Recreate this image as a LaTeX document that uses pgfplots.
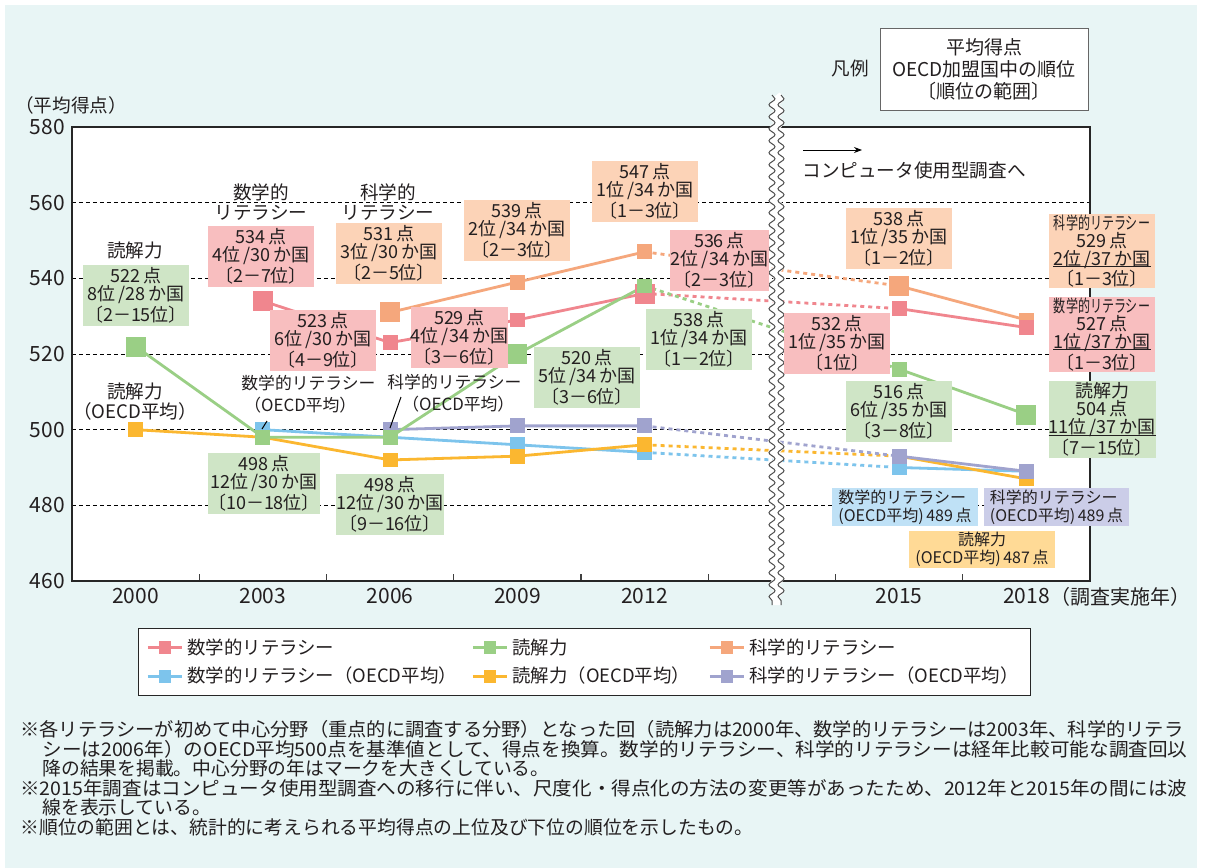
\documentclass[border=0pt]{standalone}
\usepackage{fontspec}
\setmainfont{Noto Sans CJK JP}
\usepackage{graphicx}
\usepackage{pgfplots}
\pgfplotsset{compat=1.18}
\usetikzlibrary{decorations.pathmorphing, arrows.meta}

\definecolor{bg}{HTML}{E8F5F5}
\definecolor{txt}{HTML}{231F20}
\definecolor{mathc}{HTML}{F0868E}
\definecolor{readc}{HTML}{9ACF85}
\definecolor{scic}{HTML}{F5A77C}
\definecolor{mathoc}{HTML}{7DC4EC}
\definecolor{readoc}{HTML}{FBB730}
\definecolor{scioc}{HTML}{A0A3CE}
\definecolor{mathbox}{HTML}{F8BEBF}
\definecolor{readbox}{HTML}{CFE5C6}
\definecolor{scibox}{HTML}{FCD3B7}
\definecolor{mathobox}{HTML}{BFE1F6}
\definecolor{readobox}{HTML}{FFDA96}
\definecolor{sciobox}{HTML}{CBCDE8}

\newcommand{\fs}[2]{\fontsize{#1}{#2}\selectfont}
% underline drawn as a rule under a measured box
\newcommand{\ul}[1]{\setbox0=\hbox{#1}\rlap{\rule[-0.9pt]{\wd0}{0.5pt}}\box0}
\newcommand{\nar}[1]{\scalebox{0.7}[1]{\fs{8.6}{9}#1}}

\pgfplotsset{
  ser/.style={color=#1, line width=1.4pt, mark=square*, mark size=3pt,
    mark options={solid, draw=none, fill=#1}, forget plot},
  gap/.style={color=#1, line width=1.4pt, dash pattern=on 2pt off 2pt,
    mark=none, forget plot},
  big/.style={color=#1, only marks, mark=square*, mark size=4.75pt,
    mark options={draw=none, fill=#1}, forget plot},
  lg/.style={color=#1, line width=1.4pt, mark=square*, mark size=2.5pt,
    mark options={draw=none, fill=#1}},
}
\tikzset{
  bx/.style={fill=#1, inner sep=0pt, align=center, minimum width=53pt,
    minimum height=30.5pt, font=\fs{9}{9}},
  lab/.style={inner sep=0pt, align=center},
}

\begin{document}
\begin{tikzpicture}
% 1 px = 0.5pt, y downwards
\begin{scope}[x=0.5pt,y=-0.5pt]
  \path[use as bounding box] (0,0) rectangle (1206,868);
  \fill[white] (0,0) rectangle (1206,868);
  \fill[bg] (5,5) rectangle (1197,868);
\end{scope}

\begin{axis}[
  at={(36pt,-290.5pt)}, anchor=south west,
  scale only axis, width=509pt, height=227pt,
  xmin=-0.5, xmax=7.5, ymin=460, ymax=580,
  clip=false,
  axis background/.style={fill=white},
  axis line style={line width=1pt, draw=black!85},
  xtick={0,1,2,3,4,6,7},
  xticklabels={2000,2003,2006,2009,2012,2015,2018},
  minor xtick={0.5,1.5,2.5,3.5,4.5,5.5,6.5},
  ytick={460,480,...,580},
  xtick pos=bottom, ytick pos=left,
  major tick length=0pt, minor tick length=3.5pt, tick align=inside,
  minor tick style={line width=0.6pt, draw=black!75},
  ymajorgrids,
  grid style={line width=0.5pt, draw=black, dash pattern=on 2pt off 1.5pt},
  tick label style={font=\fs{10.5}{12}, text=txt},
  /pgf/number format/assume math mode=true,
  legend columns=3, legend cell align=left,
  legend style={at={(rel axis cs:0.0648,-0.1035)}, anchor=north west,
    draw=black!85, line width=0.6pt, fill=white, font=\fs{9.2}{10},
    inner xsep=4pt, inner ysep=3pt, row sep=1pt,
    nodes={inner sep=2pt, text=txt},
    /tikz/every even column/.append style={column sep=0pt}},
]
% mathematics, OECD average
\addplot[gap=mathoc] coordinates {(4,494) (6,490)};
\addplot[ser=mathoc] coordinates {(1,500) (2,498) (3,496) (4,494)};
\addplot[ser=mathoc] coordinates {(6,490) (7,489)};
% reading, OECD average
\addplot[gap=readoc] coordinates {(4,496) (6,493)};
\addplot[ser=readoc] coordinates {(0,500) (1,498) (2,492) (3,493) (4,496)};
\addplot[ser=readoc] coordinates {(6,493) (7,487)};
% science, OECD average
\addplot[gap=scioc] coordinates {(4,501) (6,493)};
\addplot[ser=scioc] coordinates {(2,500) (3,501) (4,501)};
\addplot[ser=scioc] coordinates {(6,493) (7,489)};
% science
\addplot[gap=scic] coordinates {(4,547) (6,538)};
\addplot[ser=scic] coordinates {(2,531) (3,539) (4,547)};
\addplot[ser=scic] coordinates {(6,538) (7,529)};
\addplot[big=scic] coordinates {(2,531) (6,538)};
% mathematics
\addplot[gap=mathc] coordinates {(4,536) (6,532)};
\addplot[ser=mathc] coordinates {(1,534) (2,523) (3,529) (4,536)};
\addplot[ser=mathc] coordinates {(6,532) (7,527)};
\addplot[big=mathc] coordinates {(1,534) (4,536)};
% reading
\addplot[gap=readc] coordinates {(4,538) (6,516)};
\addplot[ser=readc] coordinates {(0,522) (1,498) (2,498) (3,520) (4,538)};
\addplot[ser=readc] coordinates {(6,516) (7,504)};
\addplot[big=readc] coordinates {(0,522) (3,520) (7,504)};

\addlegendimage{lg=mathc}\addlegendentry{\makebox[140pt][l]{数学的リテラシー}}
\addlegendimage{lg=readc}\addlegendentry{\makebox[96pt][l]{読解力}}
\addlegendimage{lg=scic}\addlegendentry{科学的リテラシー}
\addlegendimage{lg=mathoc}\addlegendentry{\makebox[140pt][l]{数学的リテラシー（OECD平均）}}
\addlegendimage{lg=readoc}\addlegendentry{\makebox[96pt][l]{読解力（OECD平均）}}
\addlegendimage{lg=scioc}\addlegendentry{科学的リテラシー（OECD平均）}
\end{axis}

\begin{scope}[x=0.5pt,y=-0.5pt, font=\fs{9.3}{10}, text=txt]
  % break between 2012 and 2015
  \draw[white, line width=4pt, decorate,
    decoration={snake, amplitude=1.5pt, segment length=6pt}] (776.5,95) -- (776.5,605);
  \draw[black!70, line width=0.5pt, decorate,
    decoration={snake, amplitude=1.5pt, segment length=6pt}] (772,95) -- (772,605);
  \draw[black!70, line width=0.5pt, decorate,
    decoration={snake, amplitude=1.5pt, segment length=6pt}] (781,95) -- (781,605);

  \node[lab] at (71,105) {（平均得点）};
  \node[lab, anchor=west] at (1050,597) {\fs{10}{12}（調査実施年）};

  % key box
  \node[lab] at (850,68) {凡例};
  \node[draw=black!60, line width=0.5pt, fill=white, minimum width=104pt,
    minimum height=41pt, align=center, inner sep=0pt, font=\fs{9.5}{11}]
    at (984,69) {平均得点\\OECD加盟国中の順位\\〔順位の範囲〕};
  \draw[-{Stealth[length=4pt,width=3pt]}, line width=0.5pt] (803,150) -- (862,150);
  \node[lab, anchor=west] at (802,170) {コンピュータ使用型調査へ};

  % series names
  \node[lab] at (135,250) {読解力};
  \node[lab] at (261,202) {数学的\\リテラシー};
  \node[lab] at (388,202) {科学的\\リテラシー};
  \node[lab] at (135,402) {読解力\\（OECD平均）};
  \begin{scope}[font=\fs{8.4}{10}]
    \node[lab, anchor=west] at (241,383) {数学的リテラシー};
    \node[lab, anchor=west] at (244,405) {（OECD平均）};
    \node[lab, anchor=west] at (387,382) {科学的リテラシー};
    \node[lab, anchor=west] at (402,404) {（OECD平均）};
  \end{scope}
  \draw[line width=0.5pt] (267,421) -- (262,429);
  \draw[line width=0.5pt] (401,397) -- (390,428);

  % reading
  \node[bx=readbox] at (136,295.5) {522\,点\\8位\,/28\,か国\\〔2－15位〕};
  \node[bx=readbox] at (264,483.5) {498\,点\\12位\,/30\,か国\\〔10－18位〕};
  \node[bx=readbox] at (390,504.5) {498\,点\\12位\,/30\,か国\\〔9－16位〕};
  \node[bx=readbox] at (587,377.5) {520\,点\\5位\,/34\,か国\\〔3－6位〕};
  \node[bx=readbox] at (699,339) {538\,点\\1位\,/34\,か国\\〔1－2位〕};
  \node[bx=readbox] at (899,411.5) {516\,点\\6位\,/35\,か国\\〔3－8位〕};
  \node[bx=readbox, minimum height=38.5pt] at (1102,419.5)
    {読解力\\504\,点\\\ul{11位\,/37\,か国}\\〔7－15位〕};
  % mathematics
  \node[bx=mathbox] at (261,256.5) {534\,点\\4位\,/30\,か国\\〔2－7位〕};
  \node[bx=mathbox] at (323,340.5) {523\,点\\6位\,/30\,か国\\〔4－9位〕};
  \node[bx=mathbox, minimum width=48.5pt] at (459.5,337) {529\,点\\4位\,/34\,か国\\〔3－6位〕};
  \node[bx=mathbox, minimum width=49.5pt] at (719.5,260.5) {536\,点\\2位\,/34\,か国\\〔2－3位〕};
  \node[bx=mathbox] at (837,343.5) {532\,点\\1位\,/35\,か国\\〔1位〕};
  \node[bx=mathbox, minimum height=37.5pt] at (1102,334.5)
    {\nar{数学的リテラシー}\\527\,点\\\ul{1位\,/37\,か国}\\〔1－3位〕};
  % science
  \node[bx=scibox] at (389,253) {531\,点\\3位\,/30\,か国\\〔2－5位〕};
  \node[bx=scibox] at (517,230.5) {539\,点\\2位\,/34\,か国\\〔2－3位〕};
  \node[bx=scibox] at (645,191.5) {547\,点\\1位\,/34\,か国\\〔1－3位〕};
  \node[bx=scibox] at (899,238) {538\,点\\1位\,/35\,か国\\〔1－2位〕};
  \node[bx=scibox, minimum height=37pt] at (1102,251)
    {\nar{科学的リテラシー}\\529\,点\\\ul{2位\,/37\,か国}\\〔1－3位〕};
  % OECD averages 2018
  \node[bx=mathobox, minimum width=73pt, minimum height=19pt, align=left,
    font=\fs{8}{9}] at (905,507) {数学的リテラシー\\(OECD平均)\,489\,点};
  \node[bx=sciobox, minimum width=72.5pt, minimum height=19pt, align=left,
    font=\fs{8}{9}] at (1056.5,507) {科学的リテラシー\\(OECD平均)\,489\,点};
  \node[bx=readobox, minimum width=73pt, minimum height=18.5pt,
    font=\fs{8}{9}] at (982,549.5) {読解力\\(OECD平均)\,487\,点};

  % notes
  \begin{scope}[every node/.style={anchor=west, inner sep=0pt, font=\fs{9.4}{10}}]
    \node at (20,729) {\resizebox{581.5pt}{\height}{※各リテラシーが初めて中心分野（重点的に調査する分野）となった回（読解力は2000年、数学的リテラシーは2003年、科学的リテラ}};
    \node at (42,749) {\resizebox{572.5pt}{\height}{シーは2006年）のOECD平均500点を基準値として、得点を換算。数学的リテラシー、科学的リテラシーは経年比較可能な調査回以}};
    \node at (42,768) {降の結果を掲載。中心分野の年はマークを大きくしている。};
    \node at (20,788) {\resizebox{583.5pt}{\height}{※2015年調査はコンピュータ使用型調査への移行に伴い、尺度化・得点化の方法の変更等があったため、2012年と2015年の間には波}};
    \node at (42,807) {線を表示している。};
    \node at (20,827) {※順位の範囲とは、統計的に考えられる平均得点の上位及び下位の順位を示したもの。};
  \end{scope}
\end{scope}
\end{tikzpicture}
\end{document}
